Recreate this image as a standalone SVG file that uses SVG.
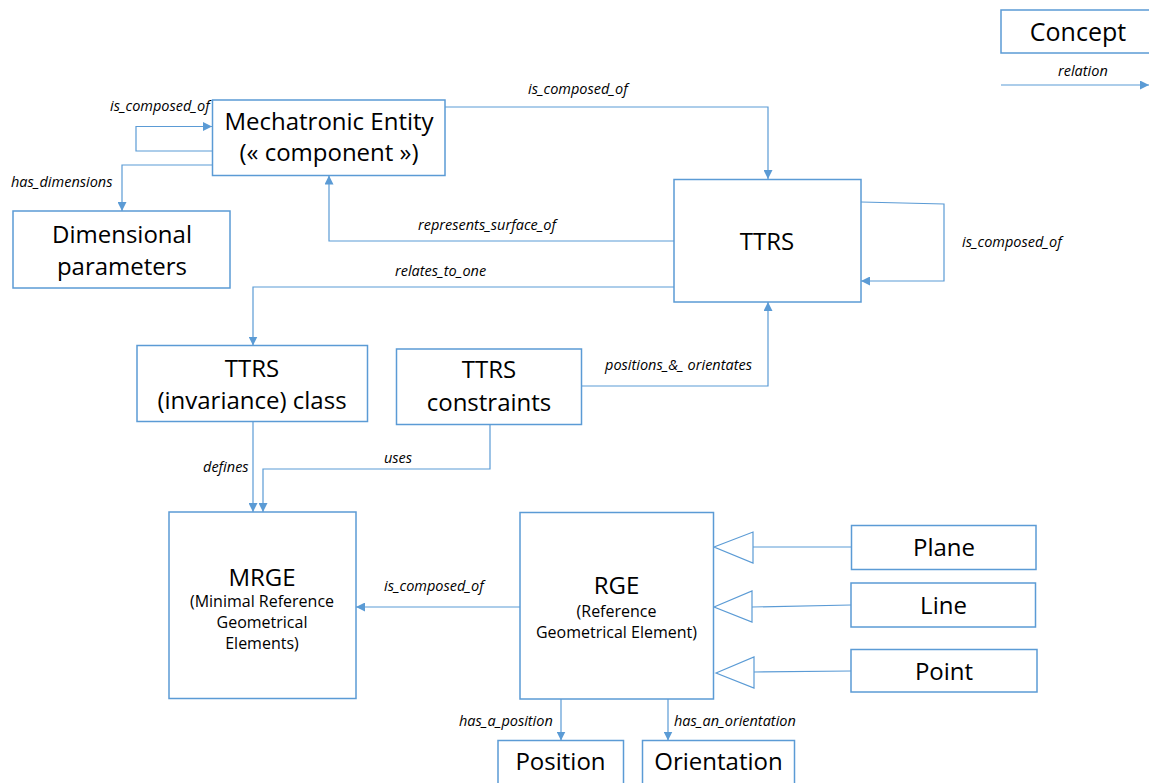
<svg xmlns="http://www.w3.org/2000/svg" width="1149" height="783" viewBox="0 0 1149 783">
<style>
.box{fill:#fff;stroke:#5b9bd5;stroke-width:1.5}
.con{fill:none;stroke:#5b9bd5;stroke-width:1.2}
.gen{fill:#fff;stroke:#5b9bd5;stroke-width:1.2}
.big{font-family:"Open Sans","Noto Sans",sans-serif;font-size:24px;fill:#000;text-anchor:middle}
.small{font-family:"Open Sans","Noto Sans",sans-serif;font-size:16px;fill:#000;text-anchor:middle}
.lbl{font-family:"Open Sans","Noto Sans",sans-serif;font-size:14.5px;font-style:italic;fill:#000}
</style>
<defs>
<marker id="arr" markerUnits="userSpaceOnUse" markerWidth="9" markerHeight="9" refX="9" refY="4.5" orient="auto">
<path d="M0,0 L9,4.5 L0,9 z" fill="#5b9bd5"/>
</marker>
</defs>
<rect width="1149" height="783" fill="#fff"/>

<g id="connectors">
<polyline class="con" points="212,151 136,151 136,126.5 212,126.5" marker-end="url(#arr)"/>
<polyline class="con" points="212,165 122,165 122,211" marker-end="url(#arr)"/>
<polyline class="con" points="445,107 768,107 768,179" marker-end="url(#arr)"/>
<polyline class="con" points="674,241 329,241 329,175.5" marker-end="url(#arr)"/>
<polyline class="con" points="861,202 944,204 944,281 861,281" marker-end="url(#arr)"/>
<polyline class="con" points="674,287 253,287 253,345.5" marker-end="url(#arr)"/>
<polyline class="con" points="582,386 768,386 768,302" marker-end="url(#arr)"/>
<polyline class="con" points="253,422 253,512" marker-end="url(#arr)"/>
<polyline class="con" points="490,425 490,469 263,469 263,512" marker-end="url(#arr)"/>
<polyline class="con" points="520,607 356,607" marker-end="url(#arr)"/>
<polyline class="con" points="561,699 561,740.5" marker-end="url(#arr)"/>
<polyline class="con" points="668,699 668,740.5" marker-end="url(#arr)"/>
<line class="con" x1="851" y1="547" x2="753" y2="547"/>
<polygon class="gen" points="714,547 753,532 753,563"/>
<line class="con" x1="851" y1="605" x2="752" y2="607"/>
<polygon class="gen" points="714,607 752,591 752,622"/>
<line class="con" x1="851" y1="671" x2="754" y2="672"/>
<polygon class="gen" points="716,673 754,657 754,688"/>
<polyline class="con" points="1001,85 1149,85" marker-end="url(#arr)"/>
<text class="lbl" x="110" y="110.5">is_composed_of</text>
<text class="lbl" x="11" y="187">has_dimensions</text>
<text class="lbl" x="528" y="94">is_composed_of</text>
<text class="lbl" x="418" y="230">represents_surface_of</text>
<text class="lbl" x="962" y="247">is_composed_of</text>
<text class="lbl" x="395" y="276">relates_to_one</text>
<text class="lbl" x="605" y="370">positions_&amp;_ orientates</text>
<text class="lbl" x="203" y="472">defines</text>
<text class="lbl" x="384" y="463">uses</text>
<text class="lbl" x="384" y="591">is_composed_of</text>
<text class="lbl" x="459" y="726">has_a_position</text>
<text class="lbl" x="674" y="726">has_an_orientation</text>
<text class="lbl" x="1058" y="75.5">relation</text>
</g>

<g id="concept">
<rect class="box" x="1001" y="10" width="160" height="43"/>
<text class="big" x="1078" y="40.5" style="font-size:25px">Concept</text>
</g>
<g id="mechatronic">
<rect class="box" x="212.5" y="100" width="232.5" height="75.5"/>
<text class="big" x="329" y="129.5">Mechatronic Entity</text>
<text class="big" x="329" y="161">(« component »)</text>
</g>
<g id="dimensional">
<rect class="box" x="13" y="211" width="217" height="77"/>
<text class="big" x="122" y="243">Dimensional</text>
<text class="big" x="122" y="275">parameters</text>
</g>
<g id="ttrs">
<rect class="box" x="674" y="179.5" width="187" height="122.5"/>
<text class="big" x="767" y="250">TTRS</text>
</g>
<g id="ttrs-class">
<rect class="box" x="137" y="345.5" width="230.5" height="76"/>
<text class="big" x="252" y="377">TTRS</text>
<text class="big" x="252" y="408.5">(invariance) class</text>
</g>
<g id="ttrs-constraints">
<rect class="box" x="396.5" y="349" width="185" height="75.5"/>
<text class="big" x="489" y="378">TTRS</text>
<text class="big" x="489" y="411">constraints</text>
</g>
<g id="mrge">
<rect class="box" x="169" y="512" width="187" height="186.5"/>
<text class="big" x="262" y="586">MRGE</text>
<text class="small" x="262" y="607">(Minimal Reference</text>
<text class="small" x="262" y="628">Geometrical</text>
<text class="small" x="262" y="648.5">Elements)</text>
</g>
<g id="rge">
<rect class="box" x="520" y="512.5" width="193.5" height="186.5"/>
<text class="big" x="616.5" y="593.5">RGE</text>
<text class="small" x="616.5" y="617">(Reference</text>
<text class="small" x="616.5" y="638">Geometrical Element)</text>
</g>
<g id="plane">
<rect class="box" x="851.5" y="525.5" width="184.5" height="44"/>
<text class="big" x="944" y="556">Plane</text>
</g>
<g id="line">
<rect class="box" x="851" y="583" width="184.5" height="44"/>
<text class="big" x="943.5" y="613.5">Line</text>
</g>
<g id="point">
<rect class="box" x="851" y="649.5" width="186" height="42.5"/>
<text class="big" x="944" y="679.5">Point</text>
</g>
<g id="position">
<rect class="box" x="498" y="740.5" width="125.5" height="60"/>
<text class="big" x="560.5" y="770">Position</text>
</g>
<g id="orientation">
<rect class="box" x="642.5" y="740.5" width="152" height="60"/>
<text class="big" x="718.5" y="770">Orientation</text>
</g>
</svg>
